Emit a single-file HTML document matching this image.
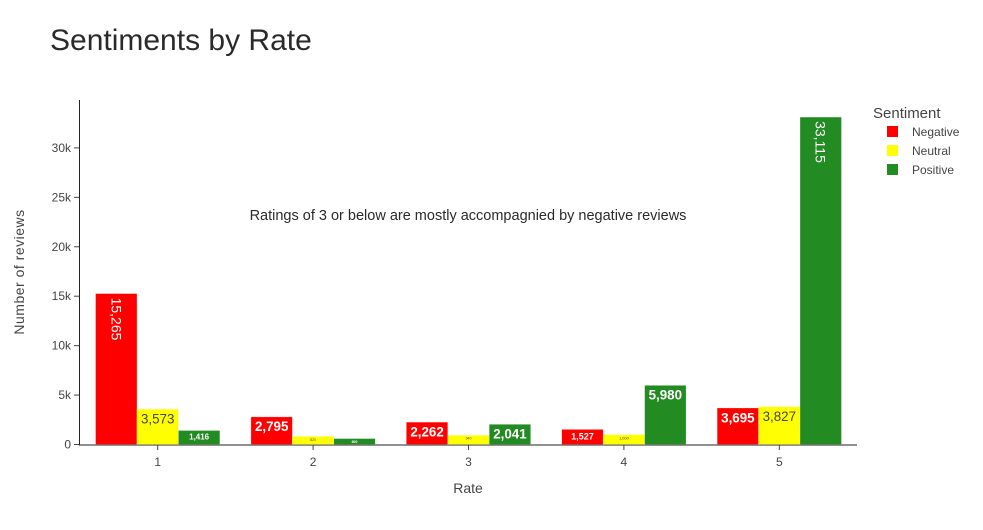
<!DOCTYPE html>
<html><head><meta charset="utf-8"><style>
body{margin:0;background:#fff;font-family:"Liberation Sans",sans-serif;}
svg text{font-family:"Liberation Sans",sans-serif;}
</style></head><body>
<svg id="chart" width="983" height="525">
<text x="50" y="50" font-size="30" fill="#2a2a2a">Sentiments by Rate</text>
<g id="plot"></g>
<text x="468" y="220" text-anchor="middle" font-size="14.5" fill="#2a2a2a">Ratings of 3 or below are mostly accompagnied by negative reviews</text>
<text x="468" y="493" text-anchor="middle" font-size="14" fill="#444">Rate</text>
<text transform="translate(24,272) rotate(-90)" text-anchor="middle" font-size="14" fill="#444" letter-spacing="0.5">Number of reviews</text>
<g>
<text x="873" y="118" font-size="15" fill="#444">Sentiment</text>
<g><rect x="887" y="126" width="11" height="11" fill="#ff0000"/><text x="912" y="136" font-size="12" fill="#444">Negative</text></g>
<g><rect x="887" y="145" width="11" height="11" fill="#ffff00"/><text x="912" y="155" font-size="12" fill="#444">Neutral</text></g>
<g><rect x="887" y="164" width="11" height="11" fill="#228b22"/><text x="912" y="174" font-size="12" fill="#444">Positive</text></g>
</g>
</svg>
<script>
const categories=["1","2","3","4","5"];
const negative=[15265,2795,2262,1527,3695];
const neutral=[3573,820,940,1000,3827];
const positive=[1416,600,2041,5980,33115];
const yTicks=[0,5000,10000,15000,20000,25000,30000];
const yTickLabels=["0","5k","10k","15k","20k","25k","30k"];
const NS="http://www.w3.org/2000/svg";
const g=document.getElementById('plot');
const x0=80,x1=857,yBase=444.5,pxPerK=9.887;
const step=(x1-x0)/categories.length;
function xc(i){return x0+step*(i+0.5);}
function y(v){return yBase-v/1000*pxPerK;}
function mk(t,a){const e=document.createElementNS(NS,t);for(const k in a)e.setAttribute(k,a[k]);g.appendChild(e);return e;}
let ax=mk('line',{x1:79.5,y1:100,x2:79.5,y2:445,stroke:'#222','stroke-width':1});


yTicks.forEach((v,i)=>{
 let t=mk('line',{x1:74,x2:79,y1:y(v),y2:y(v),stroke:'#444'});
 
 
 let l=mk('text',{x:71,y:y(v)+4,'text-anchor':'end','font-size':12,fill:'#444'});
 l.textContent=yTickLabels[i];
 
 
});
let xa=mk('line',{x1:79,y1:445,x2:x1,y2:445,stroke:'#222','stroke-width':1});


const series=[{n:'negative',d:negative,c:'#ff0000',tc:'#fff'},{n:'neutral',d:neutral,c:'#ffff00',tc:'#444'},{n:'positive',d:positive,c:'#228b22',tc:'#fff'}];
const bw=step*0.8/3;
categories.forEach((c,i)=>{
 let t=mk('line',{x1:xc(i),x2:xc(i),y1:445,y2:450,stroke:'#444'});
 
 
 let l=mk('text',{x:xc(i),y:466,'text-anchor':'middle','font-size':12,fill:'#444'});
 l.textContent=c;
 
 
 series.forEach((s,j)=>{
  const v=s.d[i];const bx=xc(i)-step*0.4+j*bw;const by=y(v);const h=yBase-by;
  let r=mk('rect',{x:bx,y:by,width:bw,height:h,fill:s.c,stroke:'rgba(255,255,255,0.5)','stroke-width':0.5});
  
  
  const txt=v.toLocaleString('en-US');
  let tl;
  const bold=s.tc==='#fff'?'bold':'normal';
  if(h>70){
   tl=mk('text',{transform:`translate(${bx+bw/2-5},${by+4}) rotate(90)`,'font-size':14,fill:s.tc});
  }else{
   let fs=Math.min(14,h-6,bw/(txt.length*0.62));
   fs=Math.max(fs,3.5);
   tl=mk('text',{x:bx+bw/2,y:by+Math.min(fs+1,(h+fs*0.7)/2+1),'text-anchor':'middle','font-size':fs,fill:s.tc,'font-weight':bold});
  }
  tl.textContent=txt;
  
  
 });
});
</script>
</body></html>
